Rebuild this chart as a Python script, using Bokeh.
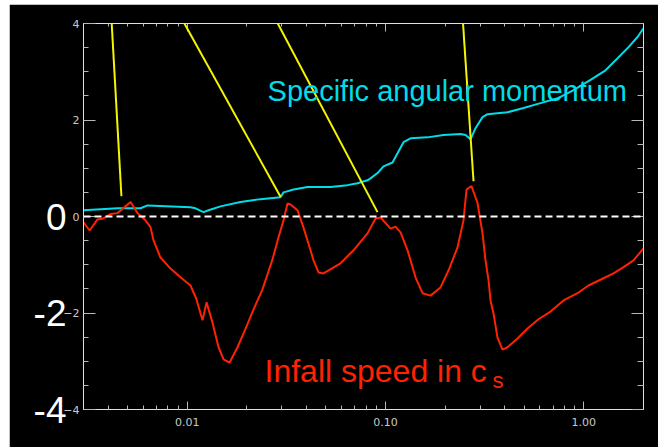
from bokeh.plotting import figure
from bokeh.models import (ColumnDataSource, FixedTicker, PrintfTickFormatter, LogAxis,
                          LinearAxis, Span, Label, Arrow, Range1d)
from bokeh.embed import file_html
from bokeh.resources import INLINE

# ---------------- data ----------------
radius_red = [0.00300, 0.00322, 0.00353, 0.00378, 0.00410, 0.00445, 0.00518, 0.00562, 0.00616,
              0.00653, 0.00676, 0.00733, 0.00824, 0.00925, 0.01039, 0.01110, 0.01195, 0.01252,
              0.01342, 0.01439, 0.01525, 0.01634, 0.01794, 0.01968, 0.02159, 0.02397, 0.02693,
              0.02888, 0.03060, 0.03205, 0.03318, 0.03600, 0.03861, 0.04186, 0.04335, 0.04593,
              0.04868, 0.05931, 0.06896, 0.08115, 0.08905, 0.09438, 0.1060, 0.1124, 0.1191,
              0.1292, 0.1417, 0.1537, 0.1687, 0.1894, 0.2079, 0.2308, 0.2474, 0.2562, 0.2715,
              0.2911, 0.3085, 0.3194, 0.3308, 0.3385, 0.3505, 0.3671, 0.3891, 0.4124, 0.4632,
              0.5201, 0.5909, 0.6795, 0.7903, 0.9295, 1.056, 1.257, 1.412, 1.586, 1.781, 2.000]
infall_speed = [-0.12, -0.29, -0.06, -0.04, 0.05, 0.07, 0.30, 0.07, -0.08,
                -0.22, -0.49, -0.85, -1.08, -1.26, -1.43, -1.70, -2.15, -1.78,
                -2.20, -2.71, -2.96, -3.03, -2.71, -2.33, -1.93, -1.51, -0.89,
                -0.43, -0.08, 0.27, 0.25, 0.13, -0.23, -0.70, -0.91, -1.16,
                -1.18, -0.97, -0.70, -0.35, -0.04, -0.02, -0.25, -0.21, -0.33,
                -0.70, -1.26, -1.59, -1.64, -1.47, -1.12, -0.64, -0.08, 0.56, 0.63,
                0.28, -0.35, -0.91, -1.32, -1.74, -2.01, -2.51, -2.76, -2.71, -2.53,
                -2.32, -2.13, -1.97, -1.74, -1.59, -1.43, -1.28, -1.18, -1.05, -0.91, -0.66]

radius_cyan = [0.00300, 0.00366, 0.00445, 0.00582, 0.00631, 0.01039, 0.01101, 0.01209, 0.01281,
               0.01472, 0.01857, 0.02342, 0.02955, 0.03060, 0.03438, 0.04044, 0.05280, 0.06434,
               0.07224, 0.08115, 0.08403, 0.09114, 0.09775, 0.1085, 0.1150, 0.1233, 0.1337,
               0.1629, 0.1962, 0.2390, 0.2533, 0.2684, 0.2844, 0.3085, 0.3270, 0.4124, 0.4966,
               0.6050, 0.7370, 0.8873, 1.081, 1.287, 1.480, 1.681, 1.866, 2.000]
angular_momentum = [0.13, 0.15, 0.17, 0.17, 0.23, 0.19, 0.17, 0.09, 0.13,
                    0.21, 0.30, 0.36, 0.40, 0.50, 0.56, 0.61, 0.61, 0.65,
                    0.69, 0.75, 0.79, 0.90, 1.04, 1.12, 1.31, 1.54, 1.62,
                    1.64, 1.69, 1.71, 1.69, 1.60, 1.83, 2.06, 2.12, 2.16, 2.25,
                    2.35, 2.45, 2.62, 2.83, 3.03, 3.28, 3.51, 3.72, 3.90]

# pointer lines (from top of picture down to features)
pointer_x_top = [0.00410, 0.00834, 0.02483, 0.2417]
pointer_y_top = [4.48, 4.48, 4.48, 4.48]
pointer_x_end = [0.00466, 0.02955, 0.09114, 0.2779]
pointer_y_end = [0.42, 0.41, 0.09, 0.73]

x_major_ticks = [0.01, 0.1, 1.0]
x_minor_ticks = [0.003, 0.004, 0.005, 0.006, 0.007, 0.008, 0.009,
                 0.02, 0.03, 0.04, 0.05, 0.06, 0.07, 0.08, 0.09,
                 0.2, 0.3, 0.4, 0.5, 0.6, 0.7, 0.8, 0.9, 2.0]
y_major_ticks = [-4, -2, 0, 2, 4]
y_minor_ticks = [-3.5, -3, -2.5, -1.5, -1, -0.5, 0.5, 1, 1.5, 2.5, 3, 3.5]
big_label_ticks = [0, -2, -4]
big_label_texts = ["0", "-2", "-4"]

# ---------------- styling ----------------
RED = "#ff2200"
CYAN = "#00dde8"
YELLOW = "#f5f500"
AXIS = "#e0e0e0"
TICK = "#b8b8b8"
FONT = "Liberation Sans"

p = figure(width=649, height=443, x_axis_type="log",
           x_range=Range1d(0.003, 2.0), y_range=Range1d(-4, 4),
           output_backend="svg", toolbar_location=None,
           background_fill_color="black", border_fill_color="black",
           min_border_left=74, min_border_right=15, min_border_top=19, min_border_bottom=38,
           outline_line_color=AXIS)
p.margin = (4, 0, 0, 9)
p.grid.visible = False

xt = FixedTicker(ticks=x_major_ticks, minor_ticks=x_minor_ticks)
yt = FixedTicker(ticks=y_major_ticks, minor_ticks=y_minor_ticks)

def style_axis(ax, major_in, minor_in):
    ax.axis_line_color = AXIS
    ax.major_tick_line_color = TICK
    ax.minor_tick_line_color = TICK
    ax.major_tick_in = major_in
    ax.major_tick_out = 0
    ax.minor_tick_in = minor_in
    ax.minor_tick_out = 0
    ax.major_label_text_color = "#c8c8c8"
    ax.major_label_text_font = "DejaVu Sans"
    ax.major_label_text_font_size = "11px"

xa = p.xaxis[0]
xa.ticker = xt
xa.formatter = PrintfTickFormatter(format="%.2f")
style_axis(xa, 8, 4)
xa.major_label_standoff = 8

ya = p.yaxis[0]
ya.ticker = yt
style_axis(ya, 12, 5)
ya.major_label_standoff = 4

# large overlaid value labels at 0, -2, -4 (outer left axis)
big = LinearAxis(ticker=FixedTicker(ticks=big_label_ticks, minor_ticks=[]))
big.major_label_overrides = dict(zip(big_label_ticks, big_label_texts))
big.axis_line_color = None
big.major_tick_line_color = None
big.minor_tick_line_color = None
big.major_tick_in = 0
big.major_tick_out = 0
big.major_label_standoff = -6
big.major_label_text_color = "white"
big.major_label_text_font = FONT
big.major_label_text_font_size = "37px"
p.add_layout(big, "left")

top = LogAxis(ticker=xt)
style_axis(top, 8, 3)
top.major_label_text_font_size = "1px"
top.major_label_text_color = None
top.major_label_standoff = 0
p.add_layout(top, "above")

right = LinearAxis(ticker=yt)
style_axis(right, 12, 6)
right.major_label_text_font_size = "1px"
right.major_label_text_color = None
right.major_label_standoff = 0
p.add_layout(right, "right")

# zero line
p.add_layout(Span(location=0, dimension="width", line_color="white",
                  line_dash="7 4", line_width=2))

# curves
p.line(radius_cyan, angular_momentum, line_color=CYAN, line_width=2)
p.line(radius_red, infall_speed, line_color=RED, line_width=2)

# pointer lines
src = ColumnDataSource(dict(xs=pointer_x_top, ys=pointer_y_top, xe=pointer_x_end, ye=pointer_y_end))
p.add_layout(Arrow(x_start="xs", y_start="ys", x_end="xe", y_end="ye", source=src,
                   start=None, end=None, line_color=YELLOW, line_width=2))

# annotations
p.add_layout(Label(x=0.02542, y=2.60, text="Specific angular momentum",
                   text_color=CYAN, text_font=FONT, text_font_size="29px",
                   text_baseline="alphabetic"))
p.add_layout(Label(x=0.02454, y=-3.20, text="Infall speed in c",
                   text_color=RED, text_font=FONT, text_font_size="32px",
                   text_baseline="alphabetic"))
p.add_layout(Label(x=0.3465, y=-3.40, text="s",
                   text_color=RED, text_font=FONT, text_font_size="22px",
                   text_baseline="alphabetic"))

open("out.html", "w").write(file_html(p, INLINE))
